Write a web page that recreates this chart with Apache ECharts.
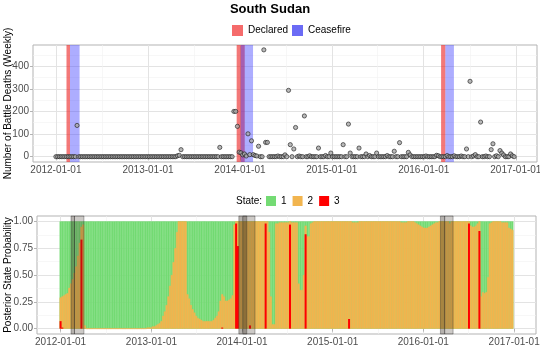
<!DOCTYPE html>
<html>
<head>
<meta charset="utf-8">
<title>South Sudan</title>
<script src="https://cdn.jsdelivr.net/npm/echarts@6/dist/echarts.min.js"></script>
<style>
html, body { margin: 0; padding: 0; background: #fff; }
#chart { width: 540px; height: 360px; }
</style>
</head>
<body>
<div id="chart"></div>
<script>
// one value per week, first week starts 2012-01-01
var firstWeek = [2012, 0, 1];

var deaths = [
	0,0,0,0,0,0,0,0,0,0,0,0,138,0,0,0,0,0,0,0,
	0,0,0,0,0,0,0,0,0,0,0,0,0,0,0,0,0,0,0,0,
	0,0,0,0,0,0,0,0,0,0,0,0,0,0,0,0,0,0,0,0,
	0,0,0,0,0,0,0,0,0,4,6,31,0,0,0,0,0,0,0,0,
	0,0,0,0,0,0,0,0,0,0,0,0,0,41,0,0,0,0,0,0,
	0,200,200,134,20,17,8,12,3,101,9,70,9,5,3,46,0,0,472,63,
	63,0,0,0,0,0,3,0,0,0,8,0,293,53,0,34,129,0,3,0,
	0,180,0,0,4,0,0,0,0,38,0,0,0,5,0,0,16,0,0,0,
	0,0,0,53,0,0,144,16,0,0,0,0,38,0,0,0,12,0,5,0,
	0,0,16,0,0,0,0,0,5,0,0,0,24,0,0,62,0,0,0,0,
	19,8,0,0,0,0,0,0,0,0,3,0,0,0,0,0,6,4,0,0,
	0,0,5,0,0,0,4,0,0,0,3,0,0,34,0,333,0,3,9,0,
	0,153,0,0,3,0,0,31,57,0,4,0,27,16,8,0,0,0,12,4,
	0
];

// posterior probability of state 1 (green) and state 3 (red); state 2 is the rest
var pState1 = [
	0.71,0.70,0.69,0.68,0.67,0.62,0.58,0.54,0.48,0.42,0.32,0.20,0.05,0.03,0.97,1,1,1,1,1,
	1,1,1,1,1,1,1,1,1,1,1,1,1,1,1,1,1,1,1,1,
	1,1,1,1,1,1,1,1,1,1,0.99,0.99,0.99,0.98,0.98,0.97,0.96,0.95,0.93,0.88,
	0.84,0.78,0.70,0.60,0.50,0.38,0.25,0.10,0,0,0,0,0,0.68,0.72,0.78,0.82,0.85,0.88,0.90,
	0.91,0.92,0.93,0.93,0.93,0.93,0.93,0.93,0.92,0.90,0.88,0.84,0.74,0.68,0.70,0.74,0.74,0.73,0.72,0.69,
	0.03,0,0,0,0,0,0,0,0,0,0,0,0,0,0,0,0,0,0,0,
	0.10,0.70,0.96,0.96,0.02,0.02,0.01,0.01,0.01,0.01,0.01,0.01,0,0.01,0.01,0.01,0.01,0.58,0.64,0.64,
	0.50,0.04,0.14,0.14,0.02,0.01,0,0,0,0,0,0,0,0,0,0,0,0,0,0,
	0,0,0,0,0,0,0,0,0.01,0.01,0.01,0.01,0,0,0,0,0,0,0,0,
	0,0,0,0,0,0,0,0,0,0,0,0,0,0,0,0,0.01,0.01,0.01,0.01,
	0,0,0,0,0.01,0.02,0.03,0.04,0.05,0.06,0.06,0.06,0.05,0.04,0.03,0.02,0.01,0.01,0,0,
	0,0,0,0,0.02,0,0,0,0,0,0,0,0,0,0,0,0.04,0.05,0.05,0.04,
	0.02,0,0.70,0.66,0.67,0.66,0.52,0.02,0.01,0,0,0,0,0,0.01,0.01,0.01,0.01,0.06,0.07,
	0.08
];

var pState3 = [
	0.07,0.01,0,0,0,0,0,0,0,0,0,0,0.83,0,0,0,0,0,0,0,
	0,0,0,0,0,0,0,0,0,0,0,0,0,0,0,0,0,0,0,0,
	0,0,0,0,0,0,0,0,0,0,0,0,0,0,0,0,0,0,0,0,
	0,0,0,0,0,0,0,0,0,0,0,0,0,0,0,0,0,0,0,0,
	0,0,0,0,0,0,0,0,0,0,0,0,0,0.01,0,0,0,0,0,0,
	0,0.98,0.77,0,0,0,0,0,0,0.03,0,0,0,0,0,0,0,0,0.98,0,
	0,0,0,0,0,0,0,0,0,0,0,0,0.97,0,0,0,0,0,0,0,
	0,0.88,0,0,0,0,0,0,0,0,0,0,0,0,0,0,0,0,0,0,
	0,0,0,0,0,0,0.09,0,0,0,0,0,0,0,0,0,0,0,0,0,
	0,0,0,0,0,0,0,0,0,0,0,0,0,0,0,0,0,0,0,0,
	0,0,0,0,0,0,0,0,0,0,0,0,0,0,0,0,0,0,0,0,
	0,0,0,0,0,0,0,0,0,0,0,0,0,0,0,0.98,0,0,0,0,
	0,0.91,0,0,0,0,0,0,0,0,0,0,0,0,0,0,0,0,0,0,
	0
];

var declared = [['2012-02-12', '2012-02-26'], ['2013-12-19', '2014-01-20'], ['2016-03-10', '2016-03-27']];
var ceasefire = [['2012-02-26', '2012-04-04'], ['2014-01-04', '2014-02-22'], ['2016-03-27', '2016-04-30']];

var yearTicks = ['2012-01-01', '2013-01-01', '2014-01-01', '2015-01-01', '2016-01-01', '2017-01-01'];
var midYearTicks = ['2012-07-02', '2013-07-02', '2014-07-02', '2015-07-02', '2016-07-02'];
var deathTicks = [0, 100, 200, 300, 400];
var deathMinor = [50, 150, 250, 350, 450];
var probTicks = [0, 0.25, 0.5, 0.75, 1];
var probMinor = [0.125, 0.375, 0.625, 0.875];

function day(s) {
	var p = s.split('-');
	return new Date(+p[0], +p[1] - 1, +p[2]).getTime();
}
function pad(n) { return n < 10 ? '0' + n : '' + n; }
function fmtDate(v) {
	var d = new Date(v);
	return d.getFullYear() + '-' + pad(d.getMonth() + 1) + '-' + pad(d.getDate());
}

var weeks = [];
for (var i = 0; i < deaths.length; i++) {
	weeks.push(new Date(firstWeek[0], firstWeek[1], firstWeek[2] + 7 * i).getTime());
}
// bars are overlaid (not stacked), so each one goes up to the top of its slice
var deathData = [], top1 = [], top2 = [], top3 = [];
for (var i = 0; i < weeks.length; i++) {
	deathData.push([weeks[i], deaths[i]]);
	top1.push([weeks[i], 1]);
	top2.push([weeks[i], +(1 - pState1[i]).toFixed(3)]);
	top3.push([weeks[i], pState3[i]]);
}
function bands(list) {
	return list.map(function(b) { return [{ xAxis: day(b[0]) }, { xAxis: day(b[1]) }]; });
}
function barStyle(c, bw) {
	// thin border in the same colour closes the hairline gaps between weekly bars
	return { color: c, borderColor: c, borderWidth: bw };
}

var axisGrey = '#4D4D4D';
var tickGrey = '#B3B3B3';
var majorLine = { show: true, lineStyle: { color: '#E3E3E3', width: 1 } };
var minorLine = { show: true, lineStyle: { color: '#F1F1F1', width: 0.6 } };

// dates are kept as timestamps on a value axis so the year ticks can be placed exactly
function dateAxis(grid, min, max) {
	return {
		gridIndex: grid, type: 'value', min: day(min), max: day(max),
		axisLine: { show: false },
		axisTick: { show: true, length: 3, lineStyle: { color: tickGrey }, customValues: yearTicks.map(day) },
		axisLabel: { customValues: yearTicks.map(day), formatter: fmtDate, color: axisGrey, fontSize: 10, margin: 3, hideOverlap: false },
		splitLine: majorLine
	};
}
function minorDateAxis(grid, min, max) {
	return {
		gridIndex: grid, type: 'value', position: 'top', min: day(min), max: day(max),
		axisLine: { show: false },
		axisTick: { show: false, customValues: midYearTicks.map(day) },
		axisLabel: { show: false },
		splitLine: minorLine
	};
}

let myChart = echarts.init(document.getElementById('chart'), null, { renderer: 'canvas' });
let option = {
	animation: false,
	backgroundColor: '#fff',
	textStyle: { fontFamily: 'Liberation Sans, Arial, sans-serif' },
	title: [{
		text: 'South Sudan', left: 'center', top: 3, padding: 0,
		textStyle: { fontSize: 13, fontWeight: 'bold', color: '#000' }
	}, {
		text: 'State:', left: 236, top: 196, padding: 0,
		textStyle: { fontSize: 10, fontWeight: 'normal', color: '#000' }
	}],
	legend: [{
		left: 232, top: 25, padding: 0, itemWidth: 11, itemHeight: 11, itemGap: 4,
		textStyle: { fontSize: 10, color: '#000' },
		data: [
			{ name: 'Declared', icon: 'rect', itemStyle: { color: '#F56B6B' } },
			{ name: 'Ceasefire', icon: 'rect', itemStyle: { color: '#6B6BF5' } }
		]
	}, {
		left: 266, top: 196, padding: 0, itemWidth: 10, itemHeight: 10, itemGap: 6,
		textStyle: { fontSize: 10, color: '#000' },
		data: [
			{ name: '1', icon: 'rect', itemStyle: { color: '#74DB74', borderWidth: 0 } },
			{ name: '2', icon: 'rect', itemStyle: { color: '#F2B54F', borderWidth: 0 } },
			{ name: '3', icon: 'rect', itemStyle: { color: '#FF0000', borderWidth: 0 } }
		]
	}],
	grid: [
		{ left: 33, right: 3, top: 45, height: 117, show: true, borderColor: tickGrey, borderWidth: 1,
			backgroundColor: '#fff', containLabel: false, outerBoundsMode: 'none' },
		{ left: 37, right: 4, top: 216, height: 118, show: true, borderColor: tickGrey, borderWidth: 1,
			backgroundColor: '#fff', containLabel: false, outerBoundsMode: 'none' }
	],
	xAxis: [
		dateAxis(0, '2011-10-02', '2017-03-26'),
		minorDateAxis(0, '2011-10-02', '2017-03-26'),
		dateAxis(1, '2011-09-28', '2017-03-30'),
		minorDateAxis(1, '2011-09-28', '2017-03-30')
	],
	yAxis: [{
		gridIndex: 0, type: 'value', min: -23.5, max: 493.5,
		axisLine: { show: false },
		axisTick: { show: true, length: 3, lineStyle: { color: tickGrey }, customValues: deathTicks },
		axisLabel: { customValues: deathTicks, color: axisGrey, fontSize: 10, margin: 4 },
		splitLine: majorLine,
		name: 'Number of Battle Deaths (Weekly)', nameLocation: 'middle', nameGap: 20, nameMoveOverlap: false,
		nameTextStyle: { fontSize: 10, color: '#000' }
	}, {
		gridIndex: 0, type: 'value', min: -23.5, max: 493.5, position: 'right',
		axisLine: { show: false }, axisLabel: { show: false },
		axisTick: { show: false, customValues: deathMinor },
		splitLine: minorLine
	}, {
		gridIndex: 1, type: 'value', min: -0.05, max: 1.05,
		axisLine: { show: false },
		axisTick: { show: true, length: 3, lineStyle: { color: tickGrey }, customValues: probTicks },
		axisLabel: { customValues: probTicks, color: axisGrey, fontSize: 10, margin: 4,
			formatter: function(v) { return v.toFixed(2); } },
		splitLine: majorLine,
		name: 'Posterior State Probability', nameLocation: 'middle', nameGap: 24, nameMoveOverlap: false,
		nameTextStyle: { fontSize: 10, color: '#000' }
	}, {
		gridIndex: 1, type: 'value', min: -0.05, max: 1.05, position: 'right',
		axisLine: { show: false }, axisLabel: { show: false },
		axisTick: { show: false, customValues: probMinor },
		splitLine: minorLine
	}],
	series: [{
		name: 'Declared', type: 'line', xAxisIndex: 0, yAxisIndex: 0, data: [], z: 1,
		itemStyle: { color: '#F56B6B' },
		markArea: { silent: true, z: 1, itemStyle: { color: 'rgba(235,30,30,0.6)' }, data: bands(declared) }
	}, {
		name: 'Ceasefire', type: 'line', xAxisIndex: 0, yAxisIndex: 0, data: [], z: 1,
		itemStyle: { color: '#6B6BF5' },
		markArea: { silent: true, z: 1, itemStyle: { color: 'rgba(60,60,255,0.42)' }, data: bands(ceasefire) }
	}, {
		name: 'deaths', type: 'scatter', xAxisIndex: 0, yAxisIndex: 0, z: 3,
		symbol: 'circle', symbolSize: 4.2,
		itemStyle: { color: '#A8A8A8', borderColor: '#1A1A1A', borderWidth: 0.8 },
		data: deathData
	}, {
		name: '1', type: 'bar', xAxisIndex: 2, yAxisIndex: 2, barWidth: 2, barGap: '-100%', z: 2,
		itemStyle: barStyle('#74DB74', 0.5), data: top1
	}, {
		name: '2', type: 'bar', xAxisIndex: 2, yAxisIndex: 2, barWidth: 2, barGap: '-100%', z: 3,
		itemStyle: barStyle('#F2B54F', 0.5), data: top2
	}, {
		name: '3', type: 'bar', xAxisIndex: 2, yAxisIndex: 2, barWidth: 2, barGap: '-100%', z: 4,
		itemStyle: barStyle('#FF0000', 0), data: top3
	}, {
		name: 'declaredGrey', type: 'line', xAxisIndex: 2, yAxisIndex: 2, data: [], z: 10,
		markArea: { silent: true, z: 10, itemStyle: { color: 'rgba(60,50,40,0.38)', borderColor: 'rgba(40,40,40,0.5)', borderWidth: 0.7 }, data: bands(declared) }
	}, {
		name: 'ceasefireGrey', type: 'line', xAxisIndex: 2, yAxisIndex: 2, data: [], z: 10,
		markArea: { silent: true, z: 10, itemStyle: { color: 'rgba(60,50,40,0.26)', borderColor: 'rgba(40,40,40,0.5)', borderWidth: 0.7 }, data: bands(ceasefire) }
	}]
};
myChart.setOption(option);
</script>
</body>
</html>
